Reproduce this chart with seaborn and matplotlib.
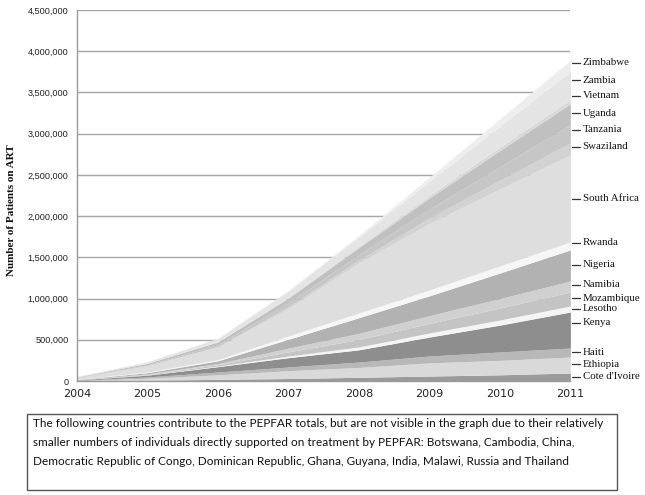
import matplotlib
matplotlib.use("Agg")
import matplotlib.pyplot as plt
import seaborn as sns
from matplotlib.patches import Rectangle

# patients on ART (directly supported by PEPFAR)
years = [2004, 2005, 2006, 2007, 2008, 2009, 2010, 2011]

countries = ["Cote d'Ivoire", "Ethiopia", "Haiti", "Kenya", "Lesotho", "Mozambique",
             "Namibia", "Nigeria", "Rwanda", "South Africa", "Swaziland", "Tanzania",
             "Uganda", "Vietnam", "Zambia", "Zimbabwe"]

cote_divoire = [2000, 8000, 20000, 30000, 45000, 60000, 75000, 97000]
ethiopia = [3000, 25000, 55000, 95000, 120000, 160000, 175000, 194000]
haiti = [3000, 16000, 34000, 45000, 65000, 83000, 102000, 109000]
kenya = [4000, 22000, 65000, 113000, 148000, 230000, 326000, 437000]
lesotho = [0, 2000, 8000, 20000, 35000, 50000, 62000, 73000]
mozambique = [1000, 6000, 15000, 50000, 90000, 115000, 145000, 170000]
namibia = [2000, 7000, 15000, 45000, 75000, 95000, 115000, 133000]
nigeria = [3000, 15000, 33000, 108000, 190000, 240000, 310000, 377000]
rwanda = [2000, 8000, 15000, 40000, 57000, 71000, 86000, 97000]
south_africa = [20000, 75000, 150000, 334000, 607000, 806000, 934000, 1056000]
swaziland = [1000, 3000, 8000, 20000, 35000, 65000, 105000, 146000]
tanzania = [2000, 10000, 22000, 45000, 65000, 110000, 165000, 218000]
uganda = [6000, 17000, 33000, 60000, 85000, 135000, 195000, 255000]
vietnam = [0, 1000, 4000, 10000, 18000, 30000, 40000, 49000]
zambia = [5000, 17000, 38000, 75000, 110000, 170000, 255000, 340000]
zimbabwe = [1000, 2000, 5000, 10000, 20000, 50000, 90000, 139000]

series = [cote_divoire, ethiopia, haiti, kenya, lesotho, mozambique, namibia, nigeria,
          rwanda, south_africa, swaziland, tanzania, uganda, vietnam, zambia, zimbabwe]

# where the right-hand labels sit (data units)
label_y = [50000, 205000, 350000, 705000, 875000, 1005000, 1165000, 1410000,
           1675000, 2210000, 2840000, 3050000, 3250000, 3460000, 3650000, 3860000]

greys = ["#9a9a9a", "#d9d9d9", "#b8b8b8", "#8e8e8e", "#f4f4f4", "#c4c4c4",
         "#d0d0d0", "#b2b2b2", "#f6f6f6", "#dedede", "#d2d2d2", "#c6c6c6",
         "#c0c0c0", "#d8d8d8", "#e4e4e4", "#ededed"]

sns.set_style("white")

fig = plt.figure(figsize=(6.45, 4.95), dpi=100)
ax = fig.add_axes([0.119, 0.2303, 0.7653, 0.7495])

ax.stackplot(years, series, colors=greys, linewidth=0, zorder=2)

ax.set_xlim(2004, 2011)
ax.set_ylim(0, 4500000)
ax.set_yticks(range(0, 4500001, 500000))
ax.set_yticklabels([f"{v:,}" for v in range(0, 4500001, 500000)],
                   fontsize=6.6, family="Liberation Sans", color="#222222")
ax.set_xticks(years)
ax.set_xticklabels([str(y) for y in years], fontsize=8, family="DejaVu Sans", color="#222222")
ax.yaxis.grid(True, color="#a6a6a6", linewidth=1, zorder=0)
ax.set_axisbelow(True)
ax.tick_params(axis="both", length=4, width=0.8, color="#9a9a9a", pad=2)

for side in ["top", "right"]:
    ax.spines[side].set_visible(False)
for side in ["left", "bottom"]:
    ax.spines[side].set_color("#9a9a9a")
    ax.spines[side].set_linewidth(1)

fig.text(12 / 645, 1 - 210 / 495, "Number of Patients on ART", family="Liberation Serif",
         fontweight="bold", fontsize=8, rotation=90, va="center", ha="center", color="#111111")

# right-hand country labels with short leader lines
for name, yv in zip(countries, label_y):
    ax.plot([2011.02, 2011.14], [yv, yv], color="#333333", linewidth=0.9,
            clip_on=False, zorder=5)
    ax.text(2011.175, yv, name, fontsize=7.8, family="Liberation Serif",
            va="center", ha="left", color="#111111", clip_on=False)

# note box below the chart
fig.patches.append(Rectangle((27 / 645, 1 - 490 / 495), 590 / 645, 76 / 495,
                             transform=fig.transFigure, fill=False,
                             edgecolor="#555555", linewidth=1))
note = ("The following countries contribute to the PEPFAR totals, but are not visible in the graph due to their relatively\n"
        "smaller numbers of individuals directly supported on treatment by PEPFAR: Botswana, Cambodia, China,\n"
        "Democratic Republic of Congo, Dominican Republic, Ghana, Guyana, India, Malawi, Russia and Thailand")
fig.text(33 / 645, 1 - 418 / 495, note, fontsize=8.5, family="Lato", va="top", ha="left",
         linespacing=1.9, color="#111111")

fig.savefig("out.png", dpi=100)
